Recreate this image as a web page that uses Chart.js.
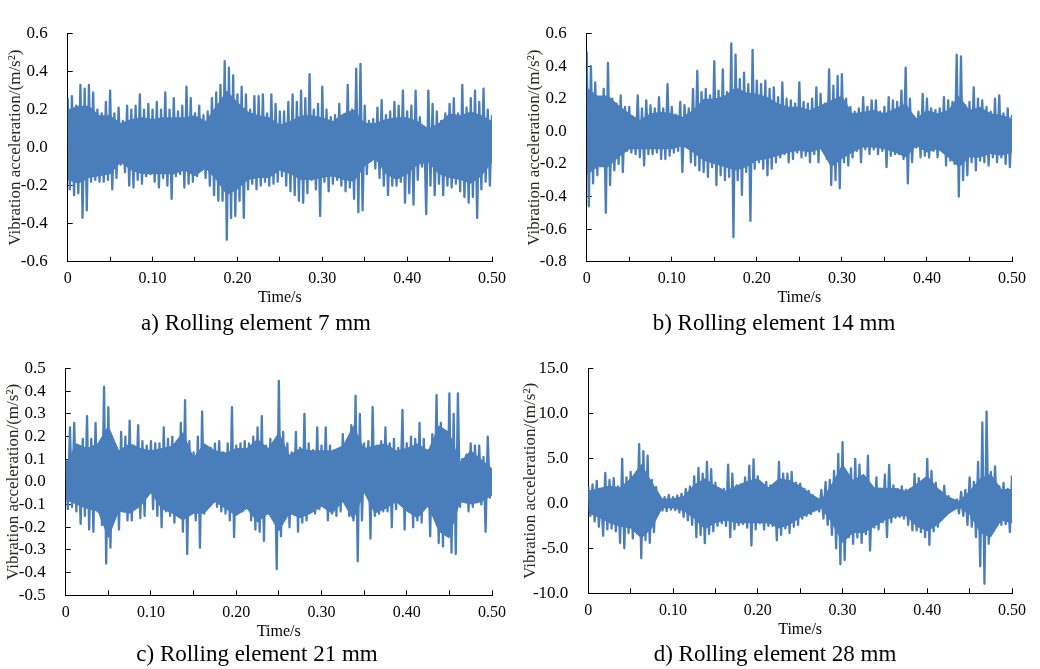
<!DOCTYPE html>
<html>
<head>
<meta charset="utf-8">
<title>Vibration acceleration signals</title>
<script src="https://cdn.jsdelivr.net/npm/chart.js"></script>
<style>
  body { margin: 0; background: #fff; }
  #wrap { position: relative; width: 1040px; height: 669px; overflow: hidden; font-family: "Liberation Serif", "Times New Roman", serif; }
  canvas { position: absolute; }
  .cap { position: absolute; width: 320px; text-align: center; font-size: 23px; line-height: 26px; color: #000; white-space: nowrap; }
</style>
</head>
<body>
<div id="wrap">
  <canvas id="chartA" width="520" height="335" style="left:0;top:0"></canvas>
  <canvas id="chartB" width="520" height="335" style="left:520px;top:0"></canvas>
  <canvas id="chartC" width="520" height="334" style="left:0;top:335px"></canvas>
  <canvas id="chartD" width="520" height="334" style="left:520px;top:335px"></canvas>
  <div class="cap" style="left:96px;top:310px">a) Rolling element 7 mm</div>
  <div class="cap" style="left:614px;top:310px">b) Rolling element 14 mm</div>
  <div class="cap" style="left:97px;top:641px">c) Rolling element 21 mm</div>
  <div class="cap" style="left:615px;top:641px">d) Rolling element 28 mm</div>
</div>
<script>
// peaks read every STEP s (troughs half a step later); edges of the solid band every CORE_STEP s
const STEP = 0.005;
const CORE_STEP = 0.0125;
const xTickLabels = ['0', '', '0.10', '', '0.20', '', '0.30', '', '0.40', '', '0.50'];

// a) 7 mm
const upperA = [0.26,0.27,0.22,0.33,0.31,0.33,0.29,0.2,0.18,0.24,
  0.3,0.18,0.21,0.14,0.22,0.2,0.22,0.28,0.2,0.23,
  0.2,0.24,0.2,0.29,0.2,0.26,0.19,0.22,0.32,0.26,
  0.18,0.22,0.17,0.19,0.26,0.29,0.33,0.455,0.42,0.38,
  0.28,0.32,0.28,0.2,0.27,0.27,0.28,0.18,0.28,0.23,
  0.19,0.19,0.24,0.28,0.24,0.3,0.26,0.386,0.2,0.23,
  0.32,0.2,0.16,0.17,0.23,0.16,0.33,0.2,0.415,0.44,
  0.22,0.14,0.15,0.21,0.25,0.17,0.19,0.24,0.22,0.3,
  0.19,0.22,0.3,0.16,0.11,0.3,0.23,0.19,0.14,0.18,
  0.23,0.26,0.18,0.33,0.21,0.26,0.3,0.24,0.31,0.2,
  0.17];
const lowerA = [-0.22,-0.25,-0.24,-0.37,-0.33,-0.18,-0.17,-0.18,-0.18,-0.17,
  -0.22,-0.16,-0.09,-0.13,-0.2,-0.21,-0.17,-0.19,-0.15,-0.14,
  -0.18,-0.21,-0.16,-0.2,-0.27,-0.15,-0.14,-0.21,-0.19,-0.18,
  -0.15,-0.12,-0.16,-0.2,-0.25,-0.28,-0.28,-0.485,-0.37,-0.36,
  -0.28,-0.37,-0.22,-0.19,-0.22,-0.2,-0.18,-0.2,-0.19,-0.18,
  -0.15,-0.2,-0.23,-0.25,-0.28,-0.29,-0.24,-0.17,-0.22,-0.36,
  -0.18,-0.23,-0.19,-0.17,-0.2,-0.23,-0.21,-0.27,-0.34,-0.33,
  -0.14,-0.07,-0.11,-0.16,-0.2,-0.25,-0.2,-0.2,-0.18,-0.29,
  -0.24,-0.3,-0.17,-0.1,-0.35,-0.2,-0.25,-0.19,-0.25,-0.2,
  -0.21,-0.19,-0.23,-0.26,-0.29,-0.26,-0.37,-0.22,-0.18,-0.2];
const coreTopA = [0.2,0.22,0.22,0.17,0.17, 0.13,0.15,0.16,0.15, 0.16,0.16,0.16,0.17,
  0.14,0.22,0.3,0.24, 0.19,0.17,0.16,0.12, 0.14,0.17,0.17,0.16, 0.14,0.18,0.2,0.13,
  0.13,0.15,0.16,0.16, 0.14,0.1,0.13,0.18, 0.17,0.19,0.17,0.14];
const coreBottomA = [-0.17,-0.19,-0.16,-0.15,-0.14, -0.08,-0.12,-0.14,-0.14, -0.14,-0.14,-0.12,-0.15,
  -0.11,-0.17,-0.25,-0.22, -0.17,-0.16,-0.16,-0.12, -0.14,-0.17,-0.17,-0.16, -0.15,-0.17,-0.18,-0.1,
  -0.06,-0.14,-0.17,-0.14, -0.09,-0.08,-0.14,-0.16, -0.17,-0.19,-0.15,-0.08];

// b) 14 mm
const upperB = [0.49,0.4,0.3,0.17,0.26,0.42,0.2,0.17,0.22,0.15,
  0.15,0.08,0.22,0.14,0.19,0.16,0.14,0.21,0.14,0.29,
  0.15,0.1,0.18,0.16,0.14,0.26,0.37,0.24,0.26,0.22,
  0.43,0.25,0.38,0.24,0.54,0.47,0.32,0.36,0.29,0.5,
  0.31,0.29,0.31,0.26,0.27,0.21,0.3,0.2,0.19,0.17,
  0.3,0.18,0.17,0.2,0.27,0.23,0.17,0.38,0.28,0.34,
  0.35,0.2,0.15,0.12,0.14,0.21,0.15,0.19,0.19,0.12,
  0.15,0.21,0.19,0.18,0.25,0.39,0.2,0.09,0.12,0.23,
  0.2,0.14,0.13,0.14,0.21,0.19,0.18,0.47,0.46,0.16,
  0.18,0.27,0.2,0.19,0.15,0.12,0.2,0.22,0.11,0.14,
  0.1];
const lowerB = [-0.46,-0.32,-0.27,-0.18,-0.5,-0.33,-0.24,-0.2,-0.25,-0.12,
  -0.13,-0.14,-0.16,-0.21,-0.14,-0.14,-0.13,-0.17,-0.17,-0.15,
  -0.13,-0.12,-0.25,-0.05,-0.19,-0.21,-0.24,-0.25,-0.28,-0.22,
  -0.33,-0.27,-0.3,-0.28,-0.65,-0.3,-0.39,-0.25,-0.55,-0.23,
  -0.19,-0.23,-0.27,-0.23,-0.19,-0.16,-0.14,-0.19,-0.17,-0.13,
  -0.16,-0.15,-0.19,-0.14,-0.19,-0.12,-0.17,-0.33,-0.3,-0.35,
  -0.19,-0.21,-0.16,-0.12,-0.19,-0.11,-0.14,-0.11,-0.14,-0.12,
  -0.22,-0.15,-0.14,-0.14,-0.17,-0.32,-0.19,-0.1,-0.16,-0.15,
  -0.16,-0.12,-0.16,-0.12,-0.21,-0.18,-0.2,-0.4,-0.3,-0.27,
  -0.19,-0.24,-0.18,-0.19,-0.21,-0.16,-0.19,-0.16,-0.2,-0.22];
const coreTopB = [0.27,0.22,0.22,0.16,0.11, 0.07,0.11,0.12,0.11, 0.09,0.13,0.2,0.2,
  0.22,0.27,0.24,0.23, 0.21,0.17,0.15,0.15, 0.13,0.16,0.19,0.22, 0.11,0.12,0.13,0.11,
  0.14,0.17,0.08,0.13, 0.11,0.13,0.22,0.13, 0.15,0.11,0.1,0.08];
const coreBottomB = [-0.27,-0.22,-0.22,-0.16,-0.11, -0.11,-0.11,-0.11,-0.11, -0.09,-0.13,-0.18,-0.2,
  -0.22,-0.24,-0.22,-0.18, -0.17,-0.15,-0.13,-0.12, -0.13,-0.11,-0.22,-0.17, -0.13,-0.1,-0.1,-0.11,
  -0.13,-0.16,-0.09,-0.13, -0.11,-0.16,-0.22,-0.16, -0.16,-0.14,-0.15,-0.13];

// c) 21 mm
const upperC = [0.1,0.24,0.26,0.14,0.19,0.29,0.19,0.26,0.17,0.42,
  0.33,0.17,0.15,0.22,0.2,0.27,0.16,0.25,0.18,0.16,
  0.18,0.17,0.17,0.24,0.19,0.2,0.16,0.26,0.36,0.18,
  0.13,0.2,0.31,0.15,0.15,0.17,0.18,0.13,0.17,0.33,
  0.16,0.17,0.18,0.17,0.2,0.24,0.29,0.16,0.19,0.14,
  0.445,0.22,0.17,0.13,0.22,0.15,0.3,0.17,0.14,0.24,
  0.16,0.24,0.16,0.14,0.14,0.21,0.17,0.25,0.38,0.3,
  0.17,0.18,0.33,0.16,0.18,0.24,0.17,0.19,0.15,0.317,
  0.17,0.2,0.19,0.26,0.19,0.14,0.21,0.383,0.26,0.22,
  0.39,0.3,0.39,0.1,0.12,0.17,0.16,0.16,0.11,0.2,
  0.06];
const lowerC = [-0.12,-0.11,-0.13,-0.185,-0.15,-0.21,-0.22,-0.13,-0.19,-0.36,
  -0.29,-0.14,-0.21,-0.13,-0.17,-0.17,-0.03,-0.16,-0.15,-0.05,
  -0.12,-0.15,-0.2,-0.13,-0.15,-0.18,-0.15,-0.22,-0.318,-0.14,
  -0.17,-0.29,-0.14,-0.09,-0.09,-0.11,-0.13,-0.14,-0.17,-0.243,
  -0.13,-0.13,-0.11,-0.17,-0.21,-0.22,-0.26,-0.14,-0.16,-0.385,
  -0.24,-0.13,-0.2,-0.13,-0.22,-0.18,-0.17,-0.13,-0.14,-0.12,
  -0.1,-0.17,-0.14,-0.15,-0.13,-0.08,-0.15,-0.17,-0.35,-0.17,
  -0.04,-0.25,-0.15,-0.14,-0.13,-0.13,-0.2,-0.12,-0.06,-0.21,
  -0.13,-0.2,-0.17,-0.18,-0.11,-0.24,-0.11,-0.27,-0.285,-0.22,
  -0.312,-0.318,-0.11,-0.04,-0.13,-0.11,-0.09,-0.1,-0.22,-0.07];
const coreTopC = [0.08,0.17,0.15,0.17,0.25, 0.14,0.17,0.15,0.14, 0.15,0.16,0.22,0.11,
  0.17,0.14,0.13,0.15, 0.15,0.19,0.15,0.22, 0.12,0.15,0.14,0.14, 0.14,0.16,0.25,0.15,
  0.16,0.17,0.14,0.15, 0.17,0.14,0.25,0.22, 0.09,0.14,0.1,0.06];
const coreBottomC = [-0.08,-0.1,-0.12,-0.13,-0.25, -0.13,-0.14,-0.11,-0.05, -0.12,-0.14,-0.17,-0.14,
  -0.14,-0.09,-0.12,-0.15, -0.12,-0.18,-0.14,-0.22, -0.14,-0.16,-0.14,-0.11, -0.14,-0.09,-0.17,-0.05,
  -0.14,-0.12,-0.09,-0.13, -0.16,-0.11,-0.22,-0.25, -0.09,-0.1,-0.09,-0.06];

// d) 28 mm
const upperD = [1.9,2.1,2.5,1.3,3.4,2.6,2.8,1.9,4.95,2.9,
  3.5,2.3,6.6,5.8,5.3,2.6,1.8,0.6,0.7,0.93,
  0.7,0.85,1.05,1.6,1.9,3.0,3.95,3.3,4.6,3.8,
  2.3,1.6,1.6,4.3,3.3,2.0,2.1,2.9,4.2,4.9,
  3.0,1.8,2.4,2.0,1.6,4.6,3.3,3.3,3.5,2.3,
  2.2,1.6,1.4,0.9,0.45,1.5,2.4,2.6,3.6,5.5,
  6.8,2.5,3.9,4.95,4.3,2.6,5.3,1.8,2.9,1.6,
  3.2,4.28,2.0,1.6,1.9,1.5,1.6,3.28,2.8,2.5,
  4.95,3.6,2.3,1.4,1.94,0.8,0.35,0.45,1.27,1.5,
  2.9,2.4,4.62,9.0,10.2,3.5,4.12,1.9,2.27,1.6,
  3.1];
const lowerD = [-1.4,-2.0,-2.6,-3.6,-2.9,-2.8,-3.1,-4.4,-5.0,-3.3,
  -3.9,-3.3,-6.1,-4.1,-4.4,-3.2,-0.7,-0.8,-0.85,-0.7,
  -0.75,-1.0,-1.5,-1.9,-2.4,-3.75,-3.5,-4.42,-3.4,-3.1,
  -2.5,-2.2,-2.5,-3.75,-2.9,-2.4,-2.3,-2.7,-4.69,-2.9,
  -2.2,-2.9,-2.5,-2.5,-4.1,-3.5,-2.8,-3.3,-2.6,-2.4,
  -1.7,-1.4,-1.2,-0.75,-0.9,-1.7,-2.4,-3.5,-5.0,-6.77,
  -6.3,-3.75,-4.5,-3.8,-4.4,-3.42,-5.26,-2.7,-2.9,-2.1,
  -3.75,-2.1,-1.6,-1.5,-1.7,-2.4,-3.0,-3.0,-3.2,-3.75,
  -4.6,-3.1,-2.6,-1.6,-1.3,-0.6,-0.55,-1.1,-1.4,-2.4,
  -2.6,-3.75,-7.0,-8.95,-4.5,-2.75,-2.3,-2.4,-2.3,-3.2];
const coreTopD = [1.4,1.7,2.0,1.8,2.8, 4.4,2.4,0.55,0.55, 0.85,2.1,2.8,2.0,
  1.4,2.0,2.5,2.8, 1.8,2.8,2.6,2.0, 1.1,0.4,2.2,4.4, 2.6,3.3,1.8,1.7,
  1.7,1.4,2.2,3.1, 1.7,0.75,0.3,1.4, 2.8,3.3,1.6,1.6];
const coreBottomD = [-1.1,-1.6,-2.2,-2.6,-2.8, -3.9,-2.8,-0.55,-0.55, -0.85,-1.7,-2.9,-2.2,
  -1.9,-2.2,-2.2,-2.2, -2.2,-2.8,-2.4,-1.6, -1.1,-0.6,-2.2,-4.4, -3.3,-3.3,-2.6,-1.9,
  -1.5,-1.4,-2.6,-3.1, -2.4,-1.2,-0.45,-1.3, -3.3,-3.8,-1.9,-2.2];

const LINE_COLOR = '#4a7ebb';
const FONT = '"Liberation Serif", "Times New Roman", serif';
const TITLE_SIZE = 16;

Chart.defaults.font.family = FONT;
Chart.defaults.color = '#000';

// peaks and troughs alternate, so the trace zigzags like the dense signal
function zigzag(upper, lower) {
  const pts = [];
  for (let i = 0; i < upper.length; i++) {
    pts.push({ x: i * STEP, y: upper[i] });
    if (i < lower.length) pts.push({ x: i * STEP + STEP / 2, y: lower[i] });
  }
  return pts;
}
function corePoints(vals) {
  return vals.map((v, i) => ({ x: i * CORE_STEP, y: v }));
}

function makePanel(id, upper, lower, coreTop, coreBottom, yMin, yMax, yStep, box) {
  const canvas = document.getElementById(id);
  const W = canvas.width, H = canvas.height;
  const lh = TITLE_SIZE * 1.2;
  const xAxisH = box.xTitleY + lh / 2 - box.bottom;
  return new Chart(canvas, {
    type: 'line',
    data: {
      datasets: [
        { data: corePoints(coreTop), fill: '+1', backgroundColor: LINE_COLOR, borderWidth: 0, pointRadius: 0 },
        { data: corePoints(coreBottom), fill: false, borderWidth: 0, pointRadius: 0 },
        {
          data: zigzag(upper, lower), fill: false,
          borderColor: LINE_COLOR, borderWidth: 2.3, borderJoinStyle: 'round',
          pointRadius: 0, tension: 0
        }
      ]
    },
    options: {
      responsive: false,
      animation: false,
      devicePixelRatio: 1,
      layout: { padding: { left: 0, top: box.top, right: W - box.right, bottom: H - box.xTitleY - lh / 2 } },
      plugins: { legend: { display: false }, tooltip: { enabled: false } },
      scales: {
        x: {
          type: 'linear', min: 0, max: 0.5,
          afterFit: s => { s.height = xAxisH; },
          ticks: {
            stepSize: 0.05, autoSkip: false, maxRotation: 0, padding: 14,
            font: { size: 16, lineHeight: 1 },
            callback: (v, i) => xTickLabels[i]
          },
          grid: { drawOnChartArea: false, drawTicks: true, tickLength: -5, color: '#000' },
          border: { display: true, color: '#000', width: 1 },
          title: { display: true, text: 'Time/s', font: { size: TITLE_SIZE }, padding: { top: 0, bottom: 0 } }
        },
        y: {
          min: yMin, max: yMax,
          afterFit: s => { s.width = box.left; },
          ticks: {
            stepSize: yStep, autoSkip: false, padding: 25,
            font: { size: 17, lineHeight: 1 },
            callback: v => (Math.abs(v) < 1e-9 ? 0 : v).toFixed(1)
          },
          grid: { drawOnChartArea: false, drawTicks: true, tickLength: -5, color: '#000' },
          border: { display: true, color: '#000', width: 1 },
          title: {
            display: true, text: 'Vibration acceleration/(m/s²)', color: '#2a2420',
            font: { size: 17 }, padding: { top: box.yTitleX - 17 * 1.2 / 2, bottom: 0 }
          }
        }
      }
    }
  });
}

makePanel('chartA', upperA, lowerA, coreTopA, coreBottomA, -0.6, 0.6, 0.2,
  { left: 67.7, right: 495.7, top: 13, bottom: 261.7, xTitleY: 298, yTitleX: 16 });
makePanel('chartB', upperB, lowerB, coreTopB, coreBottomB, -0.8, 0.6, 0.2,
  { left: 66.7, right: 492.7, top: 15, bottom: 261.7, xTitleY: 298, yTitleX: 15 });
makePanel('chartC', upperC, lowerC, coreTopC, coreBottomC, -0.5, 0.5, 0.1,
  { left: 65.7, right: 497.3, top: 8.7, bottom: 260.3, xTitleY: 296.5, yTitleX: 14 });
makePanel('chartD', upperD, lowerD, coreTopD, coreBottomD, -10, 15, 5,
  { left: 68.3, right: 494, top: 10, bottom: 258.3, xTitleY: 295, yTitleX: 11 });
</script>
</body>
</html>
